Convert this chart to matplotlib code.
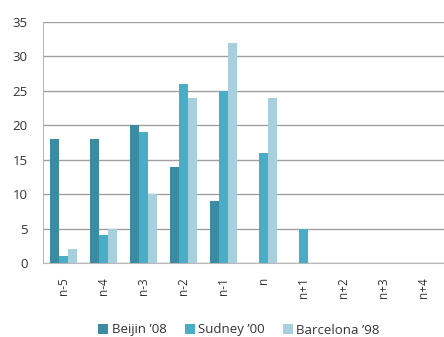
import matplotlib
matplotlib.use("Agg")
import matplotlib.pyplot as plt
import numpy as np

categories = ["n-5", "n-4", "n-3", "n-2", "n-1", "n", "n+1", "n+2", "n+3", "n+4"]
beijin = [18, 18, 20, 14, 9, 0, 0, 0, 0, 0]
sudney = [1, 4, 19, 26, 25, 16, 5, 0, 0, 0]
barcelona = [2, 5, 10, 24, 32, 24, 0, 0, 0, 0]
series_names = ["Beijin \u201908", "Sudney \u201900", "Barcelona \u201998"]
colors = ["#3b8ba3", "#4aadc7", "#a8cfdd"]

plt.rcParams['font.family'] = ['Open Sans', 'DejaVu Sans']

fig = plt.figure(figsize=(4.44, 3.37), dpi=100)
ax = fig.add_axes([43/444, 1-263/337, 401/444, (263-22)/337])

x = np.arange(len(categories))
w = 0.225
for i, (vals, name, c) in enumerate(zip([beijin, sudney, barcelona], series_names, colors)):
    ax.bar(x + (i-1)*w, vals, width=w, color=c, label=name, zorder=3)

ax.set_xlim(-0.5, len(categories)-0.5)
ax.set_ylim(0, 35)
ax.set_yticks(range(0, 36, 5))
ax.set_xticks(x)
ax.set_xticklabels(categories, rotation=90)
ax.tick_params(axis='both', length=0, colors='#333333')
ax.tick_params(axis='y', labelsize=9.5, pad=11)
ax.tick_params(axis='x', labelsize=8.5, pad=10)
ax.yaxis.grid(True, color='#a0a0a0', linewidth=1, zorder=0)
for s in ['top', 'right']:
    ax.spines[s].set_visible(False)
ax.spines['left'].set_color('#b8b8b8')
ax.spines['bottom'].set_color('#b8b8b8')

fig.legend(loc='center', bbox_to_anchor=(239/444, 1-330/337), ncol=3, frameon=False,
           fontsize=9.5, handlelength=0.75, handleheight=0.75, handletextpad=0.25,
           columnspacing=1.4, labelcolor='#333333')

fig.savefig("out.png", dpi=100)
